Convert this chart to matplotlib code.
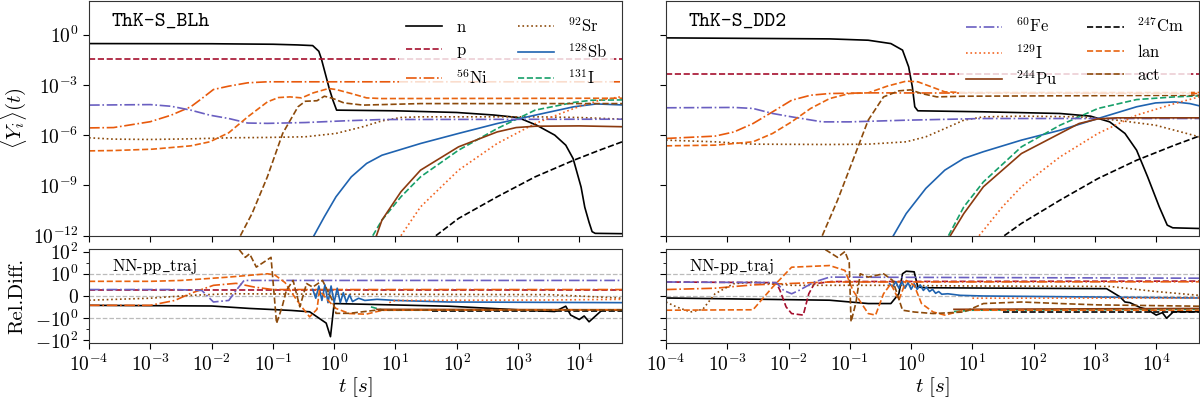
import numpy as np
import matplotlib
matplotlib.use("Agg")
import matplotlib.pyplot as plt
from matplotlib.ticker import FixedLocator, NullLocator, LogFormatterSciNotation, NullFormatter

plt.rcParams['font.family'] = ['cmr10', 'DejaVu Serif']
plt.rcParams['mathtext.fontset'] = 'cm'
plt.rcParams['axes.unicode_minus'] = False
plt.rcParams['axes.formatter.use_mathtext'] = True

# ---------------- data: (log10 t [s], log10 <Y_i>) ----------------
# ThK-S_BLh, abundances
blh_n = [(-4, -0.54), (-2, -0.55), (-1.0, -0.58), (-0.6, -0.62), (-0.35, -0.66), (-0.25, -1.0),
         (-0.21, -1.43), (-0.13, -2.53), (-0.08, -3.22), (-0.02, -3.92), (0.04, -4.51), (1.0, -4.55),
         (2.0, -4.65), (2.6, -4.8), (3.0, -4.95), (3.3, -5.4), (3.6, -6.0), (3.78, -6.6), (3.9, -7.4),
         (4.03, -9.1), (4.09, -10.3), (4.16, -11.2), (4.21, -11.76), (4.26, -11.86), (4.7, -11.88)]
blh_p = [(-4, -1.45), (4.7, -1.45)]
blh_ni56 = [(-4, -5.57), (-3.6, -5.55), (-3.0, -5.2), (-2.66, -4.81), (-2.34, -4.31), (-2.16, -3.82),
            (-1.97, -3.28), (-1.72, -3.08), (-1.41, -2.88), (-1.09, -2.82), (4.7, -2.82)]
blh_sr92 = [(-4, -6.16), (-3.6, -6.24), (-3.0, -6.26), (-2.3, -6.22), (-1.7, -6.16), (-1.1, -6.14),
            (-0.47, -6.1), (0.03, -5.9), (0.47, -5.5), (0.78, -5.15), (1.09, -4.95), (1.4, -4.91),
            (3.3, -4.91), (4.0, -4.95), (4.7, -5.05)]
blh_sb128 = [(-0.33, -12.0), (-0.16, -10.87), (0.03, -9.68), (0.28, -8.49), (0.53, -7.69), (0.78, -7.2),
             (1.41, -6.5), (2.03, -5.9), (2.66, -5.31), (3.28, -4.81), (3.91, -4.31), (4.28, -4.14), (4.7, -4.2)]
blh_i131 = [(0.63, -12.0), (0.78, -11.07), (1.09, -9.68), (1.41, -8.49), (2.03, -6.9), (2.66, -5.61),
            (3.28, -4.51), (3.91, -4.05), (4.2, -3.92), (4.7, -3.9)]
blh_fe60 = [(-4, -4.21), (-3.0, -4.18), (-2.66, -4.28), (-2.34, -4.51), (-2.03, -4.81), (-1.72, -5.01),
            (-1.41, -5.28), (-1.09, -5.3), (-0.47, -5.25), (0.16, -5.15), (0.78, -5.07), (4.7, -5.05)]
blh_i129 = [(1.09, -12.0), (1.41, -10.28), (2.03, -8.09), (2.66, -6.5), (3.28, -5.31), (3.91, -4.41),
            (4.33, -3.92), (4.7, -3.7)]
blh_pu244 = [(0.69, -12.0), (0.78, -11.07), (1.09, -9.38), (1.41, -8.09), (2.03, -6.7), (2.66, -5.81),
             (2.97, -5.55), (3.28, -5.47), (4.0, -5.45), (4.7, -5.5)]
blh_cm247 = [(1.66, -12.0), (2.03, -10.97), (2.66, -9.68), (3.28, -8.49), (3.91, -7.5), (4.33, -6.9), (4.7, -6.4)]
blh_lan = [(-4, -6.94), (-3.6, -6.92), (-2.97, -6.84), (-2.34, -6.64), (-2.03, -6.4), (-1.72, -5.86),
           (-1.41, -4.91), (-1.09, -4.02), (-0.91, -3.76), (-0.72, -3.72), (-0.53, -3.78), (-0.34, -3.48),
           (-0.09, -3.22), (0.03, -3.28), (0.28, -3.52), (0.53, -3.78), (0.78, -3.82), (4.7, -3.8)]
blh_act = [(-1.53, -12.0), (-1.34, -10.68), (-1.09, -8.49), (-0.84, -5.9), (-0.59, -4.31), (-0.47, -3.98),
           (-0.28, -3.95), (-0.16, -3.68), (-0.03, -3.8), (0.16, -4.08), (0.47, -4.21), (0.78, -4.18),
           (1.41, -4.12), (4.7, -4.12)]

# ThK-S_DD2, abundances
dd2_n = [(-4, -0.2), (-1.33, -0.26), (-0.7, -0.34), (-0.33, -0.54), (-0.14, -0.93), (-0.04, -1.93),
         (0.02, -3.12), (0.06, -4.31), (0.11, -4.55), (1.18, -4.61), (2.43, -4.71), (2.93, -4.87),
         (3.24, -5.21), (3.49, -5.9), (3.68, -6.9), (3.86, -8.49), (4.05, -10.28), (4.18, -11.37),
         (4.27, -11.53), (4.7, -11.57)]
dd2_p = [(-4, -2.33), (4.7, -2.33)]
dd2_ni56 = [(-4, -6.2), (-3.2, -6.06), (-2.89, -5.81), (-2.58, -5.31), (-2.26, -4.61), (-1.95, -3.92),
            (-1.64, -3.62), (-1.33, -3.52), (-0.7, -3.48), (4.7, -3.52)]
dd2_sr92 = [(-4, -6.3), (-3.2, -6.4), (-2.58, -6.54), (-1.33, -6.56), (-0.7, -6.54), (-0.08, -6.4),
            (0.24, -6.1), (0.55, -5.61), (0.86, -5.11), (1.18, -4.91), (1.8, -4.87), (2.74, -4.91),
            (3.36, -5.11), (3.99, -5.41), (4.3, -5.71), (4.7, -6.1)]
dd2_sb128 = [(-0.29, -12.0), (-0.08, -10.68), (0.24, -9.18), (0.55, -8.09), (0.86, -7.39), (1.18, -6.99),
             (1.8, -6.3), (2.43, -5.71), (3.05, -5.01), (3.68, -4.31), (3.99, -4.08), (4.3, -4.02),
             (4.55, -4.12), (4.7, -4.25)]
dd2_i131 = [(0.61, -12.0), (0.86, -10.28), (1.18, -8.79), (1.8, -6.7), (2.43, -5.41), (3.05, -4.41),
            (3.68, -3.88), (4.3, -3.72), (4.7, -3.66)]
dd2_fe60 = [(-4, -4.37), (-2.89, -4.35), (-2.58, -4.41), (-2.26, -4.71), (-1.95, -4.91), (-1.45, -5.21),
            (-1.01, -5.21), (-0.08, -5.11), (1.18, -5.01), (4.7, -5.01)]
dd2_i129 = [(1.11, -12.0), (1.49, -10.28), (1.8, -9.08), (2.43, -7.3), (3.05, -5.9), (3.68, -4.81),
            (4.3, -4.12), (4.7, -3.72)]
dd2_pu244 = [(0.64, -12.0), (0.86, -10.68), (1.18, -9.08), (1.8, -7.1), (2.43, -5.9), (2.74, -5.31),
             (3.05, -5.03), (3.36, -4.97), (4.7, -4.97)]
dd2_cm247 = [(1.52, -12.0), (1.8, -11.27), (2.43, -9.88), (3.05, -8.59), (3.68, -7.5), (4.3, -6.6), (4.7, -6.06)]
dd2_lan = [(-4, -6.64), (-3.2, -6.6), (-2.58, -6.4), (-2.26, -5.9), (-1.95, -5.21), (-1.64, -4.41),
           (-1.33, -3.82), (-1.01, -3.52), (-0.7, -3.48), (-0.39, -3.08), (-0.08, -2.78), (0.11, -2.82),
           (0.36, -3.16), (0.55, -3.42), (0.86, -3.46), (4.7, -3.46)]
dd2_act = [(-1.45, -12.0), (-1.2, -9.88), (-0.95, -7.5), (-0.7, -5.11), (-0.45, -3.72), (-0.2, -3.36),
           (-0.01, -3.3), (0.17, -3.52), (0.42, -3.72), (0.86, -3.68), (4.7, -3.62)]

# ---------------- relative differences: (log10 t [s], rel. diff.) ----------------
blh_d_n = [(-4, -0.42), (-2, -0.45), (-1.38, -0.56), (-0.7, -0.65), (-0.4, -0.71), (-0.13, -2.75),
           (-0.06, -46), (0.0, -0.34), (1.88, -0.46), (3.13, -0.64), (3.6, -0.7), (3.78, -0.46),
           (3.86, -0.86), (4.0, -1.3), (4.08, -0.9), (4.16, -2.1), (4.37, -0.64), (4.7, -0.64)]
blh_d_p = [(-4, 0.29), (4.7, 0.29)]
blh_d_ni56 = [(-4, -0.42), (-3.0, -0.42), (-2.6, -0.2), (-2.34, 0.12), (-1.97, 0.48), (-1.6, 0.57),
              (-1.3, 0.4), (-1.0, 0.29), (4.7, 0.29)]
blh_d_sr92 = [(-4, -0.19), (-3.0, -0.1), (-2.34, 0.03), (-1.72, 0.1), (0, 0.08), (3.5, 0.06), (4.0, 0.0), (4.7, -0.1)]
blh_d_sb128 = [(-0.35, 0.3), (-0.3, -0.1), (-0.25, 0.45), (-0.2, -0.2), (-0.15, 0.5), (-0.1, -0.3),
               (-0.05, 0.45), (0.0, -0.3), (0.05, 0.35), (0.1, -0.3), (0.15, 0.15), (0.2, -0.28),
               (0.25, 0.05), (0.3, -0.25), (0.4, -0.1), (0.5, -0.2), (0.7, -0.15), (1.0, -0.2),
               (1.87, -0.27), (4.7, -0.3)]
blh_d_i131 = [(0.6, -0.49), (0.8, -0.64), (4.7, -0.64)]
blh_d_fe60 = [(-4, 0.29), (-2.6, 0.29), (-2.16, 0.25), (-1.97, -0.27), (-1.72, -0.2), (-1.6, 0.25),
              (-1.47, 0.7), (4.7, 0.7)]
blh_d_i129 = [(0.9, -0.3), (1.0, -0.2), (3.5, -0.18), (4.7, -0.15)]
blh_d_pu244 = [(0.7, -0.6), (4.7, -0.62)]
blh_d_cm247 = [(1.6, -0.66), (4.7, -0.66)]
blh_d_lan = [(-4, 0.66), (-3.0, 0.66), (-2.5, 0.7), (-1.72, 0.85), (-1.09, 1.0), (-0.97, 0.95),
             (-0.8, 0.6), (-0.72, 0.25), (-0.53, -0.49), (-0.4, -0.94), (-0.28, -0.6), (-0.24, 0.25),
             (-0.1, -0.2), (0.03, -0.56), (0.25, -0.79), (0.52, -0.82), (0.79, -0.64), (4.7, -0.62)]
blh_d_act = [(-1.55, 150), (-1.45, 30), (-1.38, 63), (-1.27, 4), (-1.03, 30), (-0.94, -2.9),
             (-0.85, -0.5), (-0.78, 0.25), (-0.67, 0.7), (-0.56, -0.49), (-0.45, 0.56), (-0.35, 0.4),
             (-0.19, 0.7), (-0.03, -0.19), (0.03, -0.78), (0.25, -0.78), (0.68, -0.64), (4.7, -0.62)]

dd2_d_n = [(-4, -0.09), (-1.33, -0.19), (-0.7, -0.34), (-0.33, -0.34), (-0.2, 0.1), (-0.14, 1.0),
           (-0.08, 1.7), (0.05, 1.5), (0.11, 0.4), (0.24, 0.37), (3.19, 0.33), (3.41, -0.04),
           (3.49, -0.27), (3.57, -0.3), (3.74, -0.52), (3.85, -0.6), (4.0, -0.86), (4.1, -0.75),
           (4.17, -1.0), (4.28, -0.71), (4.7, -0.71)]
dd2_d_p = [(-4, 0.63), (-2.2, 0.6), (-2.14, 0.25), (-2.04, -0.49), (-1.95, -0.79), (-1.76, -0.86),
           (-1.67, 0.1), (-1.58, 0.55), (-1.3, 0.65), (4.7, 0.67)]
dd2_d_ni56 = [(-4, 0.29), (-3.2, 0.35), (-2.58, 0.5), (-1.33, 0.63), (4.7, 0.64)]
dd2_d_sr92 = [(-4, -0.27), (-3.83, -0.49), (-3.6, -0.72), (-3.4, -0.6), (-3.2, 0.1), (-2.9, 0.55),
              (-2.58, 0.63), (-1.95, 0.48), (-0.5, 0.48), (1.0, 0.45), (3.24, 0.43), (4.0, 0.2), (4.7, 0.03)]
dd2_d_sb128 = [(-0.35, 0.55), (-0.3, 0.4), (-0.25, 0.65), (-0.2, 0.35), (-0.15, 0.65), (-0.1, 0.35),
               (-0.05, 0.6), (0.0, 0.3), (0.05, 0.55), (0.1, 0.3), (0.15, 0.5), (0.2, 0.25), (0.25, 0.4),
               (0.3, 0.2), (0.35, 0.3), (0.4, 0.12), (0.45, 0.2), (0.5, 0.08), (0.6, 0.1), (0.8, 0.03),
               (1.18, 0.0), (4.7, -0.09)]
dd2_d_i131 = [(0.7, -0.7), (1.0, -0.64), (4.7, -0.6)]
dd2_d_fe60 = [(-4, 0.63), (-2.2, 0.6), (-2.08, 0.25), (-1.95, 0.1), (-1.83, 0.25), (-1.58, 0.63),
              (-1.33, 0.85), (4.7, 0.8)]
dd2_d_i129 = [(1.0, -0.1), (4.7, -0.09)]
dd2_d_pu244 = [(0.7, -0.6), (4.7, -0.56)]
dd2_d_cm247 = [(1.5, -0.74), (4.7, -0.74)]
dd2_d_lan = [(-4, -0.64), (-2.58, -0.62), (-2.26, 0.4), (-1.95, 3.9), (-1.33, 5.5), (-1.08, 2.0),
             (-0.95, 0.25), (-0.7, -0.79), (-0.58, -0.86), (-0.45, 0.1), (-0.33, 0.55), (-0.2, -0.19),
             (-0.08, 0.7), (0.05, 0.48), (0.17, -0.34), (0.36, -0.72), (0.55, -0.86), (0.86, -0.64), (4.7, -0.64)]
dd2_d_act = [(-1.4, 150), (-1.2, 30), (-1.08, 100), (-1.01, 10), (-0.98, -2.1), (-0.9, -0.3),
             (-0.83, 1.0), (-0.7, 0.85), (-0.45, 1.0), (-0.3, 0.7), (-0.14, -0.64), (0.05, -0.72),
             (0.36, -0.79), (0.86, -0.72), (1.18, -0.34), (1.8, -0.27), (2.43, -0.34), (3.05, -0.4), (4.7, -0.46)]

# species: label, colour, linestyle
labels = [r'$\mathrm{n}$', r'$\mathrm{p}$', r'$^{56}\mathrm{Ni}$', r'$^{92}\mathrm{Sr}$',
          r'$^{128}\mathrm{Sb}$', r'$^{131}\mathrm{I}$', r'$^{60}\mathrm{Fe}$', r'$^{129}\mathrm{I}$',
          r'$^{244}\mathrm{Pu}$', r'$^{247}\mathrm{Cm}$', r'$\mathrm{lan}$', r'$\mathrm{act}$']
colors = ['black', '#a50f2d', '#e8590c', '#8c4a0b', '#1f63b0', '#17a06a',
          '#6a5fc1', '#f26522', '#8b3a0f', 'black', '#e8630f', '#8c4a0b']
styles = ['-', '--', '-.', ':', '-', '--', '-.', ':', '-', '--', '--', '--']

blh_top = [blh_n, blh_p, blh_ni56, blh_sr92, blh_sb128, blh_i131,
           blh_fe60, blh_i129, blh_pu244, blh_cm247, blh_lan, blh_act]
dd2_top = [dd2_n, dd2_p, dd2_ni56, dd2_sr92, dd2_sb128, dd2_i131,
           dd2_fe60, dd2_i129, dd2_pu244, dd2_cm247, dd2_lan, dd2_act]
blh_bot = [blh_d_n, blh_d_p, blh_d_ni56, blh_d_sr92, blh_d_sb128, blh_d_i131,
           blh_d_fe60, blh_d_i129, blh_d_pu244, blh_d_cm247, blh_d_lan, blh_d_act]
dd2_bot = [dd2_d_n, dd2_d_p, dd2_d_ni56, dd2_d_sr92, dd2_d_sb128, dd2_d_i131,
           dd2_d_fe60, dd2_d_i129, dd2_d_pu244, dd2_d_cm247, dd2_d_lan, dd2_d_act]

fig = plt.figure(figsize=(12, 3.98), dpi=100)
W = 0.4442
ax_tl = fig.add_axes([0.0742, 0.4078, W, 0.5897])
ax_bl = fig.add_axes([0.0742, 0.1382, W, 0.2362])
ax_tr = fig.add_axes([0.5550, 0.4078, W, 0.5897])
ax_br = fig.add_axes([0.5550, 0.1382, W, 0.2362])

xticks = [10.0**k for k in range(-4, 5)]

def style_common(ax):
    ax.set_xscale('log')
    ax.set_xlim(1e-4, 5e4)
    ax.xaxis.set_major_locator(FixedLocator(xticks))
    ax.xaxis.set_minor_locator(NullLocator())
    ax.tick_params(labelsize=14, width=0.8, length=4)
    for s in ax.spines.values():
        s.set_color('#333333')

for ax, data, title in [(ax_tl, blh_top, 'ThK-S_BLh'), (ax_tr, dd2_top, 'ThK-S_DD2')]:
    for d, lab, c, ls in zip(data, labels, colors, styles):
        d = np.array(d)
        ax.plot(10**d[:, 0], 10**d[:, 1], color=c, ls=ls, lw=1.2, label=lab)
    style_common(ax)
    ax.set_yscale('log')
    ax.set_ylim(1e-12, 1e2)
    ax.yaxis.set_major_locator(FixedLocator([1e-12, 1e-9, 1e-6, 1e-3, 1e0]))
    ax.yaxis.set_major_formatter(LogFormatterSciNotation())
    ax.yaxis.set_minor_locator(NullLocator())
    ax.xaxis.set_major_formatter(NullFormatter())
    ax.text(0.043, 0.91, title, transform=ax.transAxes, fontsize=15,
            family='cmtt10', va='center', ha='left')

for ax in [ax_bl, ax_br]:
    data = blh_bot if ax is ax_bl else dd2_bot
    for yv in [1, 0, -1]:
        ax.axhline(yv, color='#bbbbbb', ls='--', lw=0.9, zorder=0)
    for d, c, ls in zip(data, colors, styles):
        d = np.array(d)
        ax.plot(10**d[:, 0], d[:, 1], color=c, ls=ls, lw=1.2)
    style_common(ax)
    ax.set_yscale('symlog', linthresh=1, linscale=1.8)
    ax.set_ylim(-170, 170)
    ax.yaxis.set_major_locator(FixedLocator([-100, -1, 0, 1, 100]))
    ax.yaxis.set_minor_locator(FixedLocator([-10, 10]))
    ax.set_yticklabels([r'$-10^2$', r'$-10^0$', r'$0$', r'$10^0$', r'$10^2$'])
    ax.xaxis.set_major_formatter(LogFormatterSciNotation())
    ax.text(0.043, 0.81, r'NN-pp$\_$traj', transform=ax.transAxes, fontsize=12, va='center', ha='left')
    ax.set_xlabel(r'$t\ [s]$', fontsize=15)
    ax.xaxis.set_label_coords(0.5, -0.34)

ax_tr.set_yticklabels([])
ax_br.set_yticklabels([])

ax_tl.set_ylabel(r'$\langle Y_i\rangle(t)$', fontsize=15)
ax_bl.set_ylabel('Rel.Diff.', fontsize=15)
ax_tl.yaxis.set_label_coords(-0.112, 0.5)
ax_bl.yaxis.set_label_coords(-0.118, 0.5)

h, l = ax_tl.get_legend_handles_labels()
leg_kw = dict(loc='upper right', ncol=2, fontsize=12, framealpha=0.8, edgecolor='none',
              fancybox=False, labelspacing=0.45, handlelength=2.2, handletextpad=0.8,
              columnspacing=1.8, borderaxespad=0.5)
ax_tl.legend(h[:6], l[:6], **leg_kw)
h, l = ax_tr.get_legend_handles_labels()
ax_tr.legend(h[6:], l[6:], **leg_kw)

fig.savefig('out.png', dpi=100)
